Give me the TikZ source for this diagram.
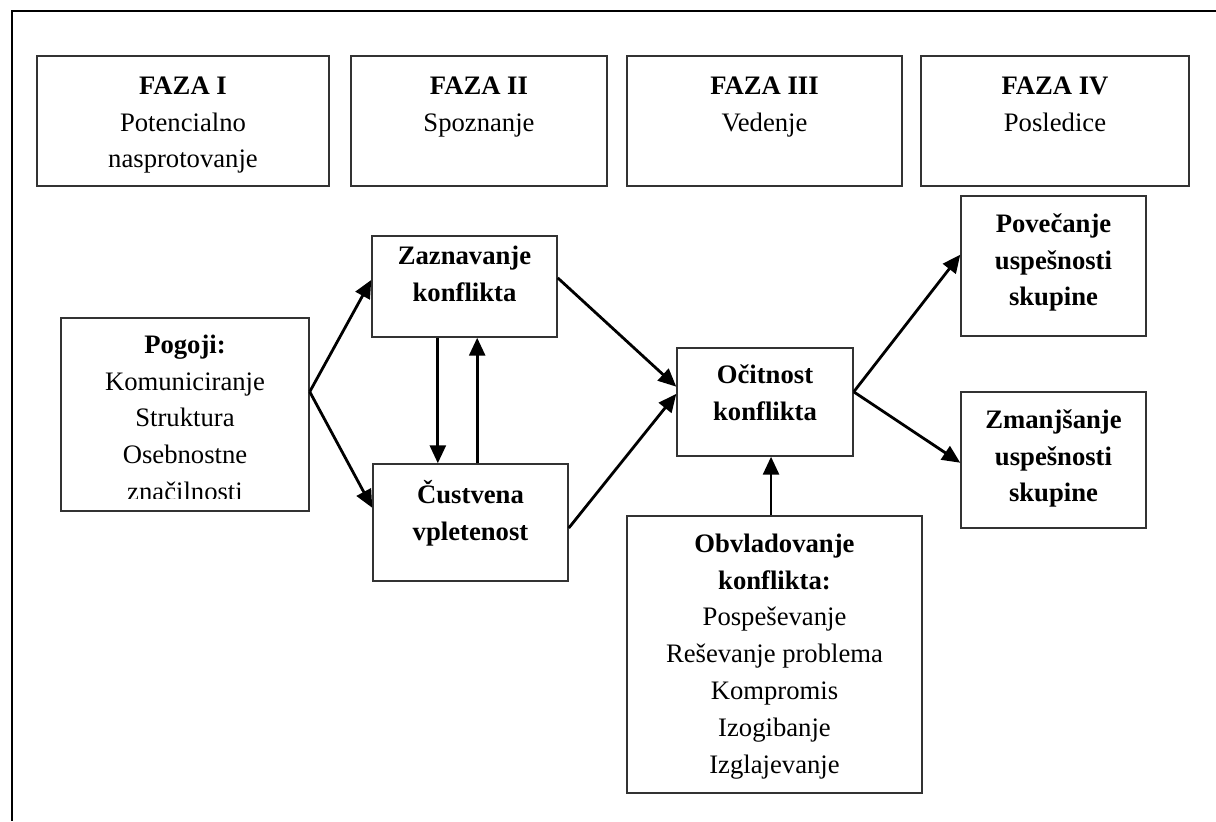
\documentclass[tikz,border=0pt]{standalone}
\usepackage{fontspec}
\setmainfont{Liberation Serif}
\usetikzlibrary{arrows.meta,calc}
\newcommand\fl{\rule{0pt}{15pt}}
\newcommand\bx[5]{\node[box, minimum width={(#4-#2)*0.75pt}, minimum height={(#5-#3)*0.75pt}] (#1) at ({(#2+#4)/2},{(#3+#5)/2}) {};}
\begin{document}
\begin{tikzpicture}[x=0.75pt,y=-0.75pt,
  box/.style={draw=black!80, line width=1.1pt, inner sep=0pt, fill=none},
  txt/.style={inner sep=0pt, align=center, anchor=north, font=\fontsize{20}{27.6}\selectfont},
  btxt/.style={txt, font=\fontsize{20}{27.6}\selectfont\bfseries},
  arr/.style={line width=2.1pt, -{Triangle[length=13.5pt,width=12pt]}},
  frame/.style={line width=1.7pt}]
\useasboundingbox (0,0) rectangle (1216,821);
% outer frame
\coordinate (frTR) at (1216,11);
\coordinate (frTL) at (12,11);
\coordinate (frBL) at (12,821);
\draw[frame] (frTR) -- (frTL) -- (frBL);
% phase boxes
\bx{f1}{37}{56}{329}{186}
\bx{f2}{351}{56}{607}{186}
\bx{f3}{627}{56}{902}{186}
\bx{f4}{921}{56}{1189}{186}
\node[txt] (t1) at (183,74) {\fl\textbf{FAZA I}\\Potencialno\\nasprotovanje};
\node[txt] (t2) at (479,74) {\fl\textbf{FAZA II}\\Spoznanje};
\node[txt] (t3) at (764.5,74) {\fl\textbf{FAZA III}\\Vedenje};
\node[txt] (t4) at (1055,74) {\fl\textbf{FAZA IV}\\Posledice};
% flow boxes
\bx{pog}{61}{318}{309}{511}
\bx{zaz}{372}{236}{557}{337}
\bx{cus}{373}{464}{568}{581}
\bx{oci}{677}{348}{853}{456}
\bx{obv}{627}{516}{922}{793}
\bx{pov}{961}{196}{1146}{336}
\bx{zma}{961}{392}{1146}{528}
\begin{scope}
\clip (61,318) rectangle (309,498);
\node[txt] (tpog) at (185,333) {\fl\textbf{Pogoji:}\\Komuniciranje\\Struktura\\Osebnostne\\značilnosti};
\end{scope}
\node[btxt] (tzaz) at (464.5,244) {\fl Zaznavanje\\konflikta};
\node[btxt] (tcus) at (470.5,480) {\fl Čustvena\\vpletenost};
\node[btxt] (toci) at (765,363) {\fl Očitnost\\konflikta};
\node[txt] (tobv) at (774.5,532) {\fl\textbf{Obvladovanje}\\\textbf{konflikta:}\\Pospeševanje\\Reševanje problema\\Kompromis\\Izogibanje\\Izglajevanje};
\node[btxt] (tpov) at (1053.5,212) {\fl Povečanje\\uspešnosti\\skupine};
\node[btxt] (tzma) at (1053.5,408) {\fl Zmanjšanje\\uspešnosti\\skupine};
% connector points
\coordinate (pa) at ($(pog.north east)!0.383!(pog.south east)$);
\coordinate (zazIn) at ($(zaz.north west)!0.436!(zaz.south west)$);
\coordinate (cusIn) at ($(cus.north west)!0.376!(cus.south west)$);
\coordinate (zazD) at ($(zaz.south west)!0.357!(zaz.south east)$);
\coordinate (zazU) at ($(zaz.south west)!0.568!(zaz.south east)$);
\coordinate (zazOut) at ($(zaz.north east)!0.416!(zaz.south east)$);
\coordinate (ociA) at ($(oci.north west)!0.36!(oci.south west)$);
\coordinate (ociB) at ($(oci.north west)!0.426!(oci.south west)$);
\coordinate (cusOut) at ($(cus.north east)!0.547!(cus.south east)$);
\coordinate (ociBot) at ($(oci.south west)!0.534!(oci.south east)$);
\coordinate (ociOut) at ($(oci.north east)!0.407!(oci.south east)$);
\coordinate (povIn) at ($(pov.north west)!0.42!(pov.south west)$);
\coordinate (zmaIn) at ($(zma.north west)!0.52!(zma.south west)$);
% connectors
\draw[arr] (pa) -- (zazIn);
\draw[arr] (pa) -- (cusIn);
\draw[arr] (zazD) -- (zazD |- cus.north);
\draw[arr] (zazU |- cus.north) -- (zazU);
\draw[arr] (zazOut) -- (ociA);
\draw[arr] (cusOut) -- (ociB);
\draw[arr] (ociBot |- obv.north) -- (ociBot);
\draw[arr] (ociOut) -- (povIn);
\draw[arr] (ociOut) -- (zmaIn);
\end{tikzpicture}
\end{document}
